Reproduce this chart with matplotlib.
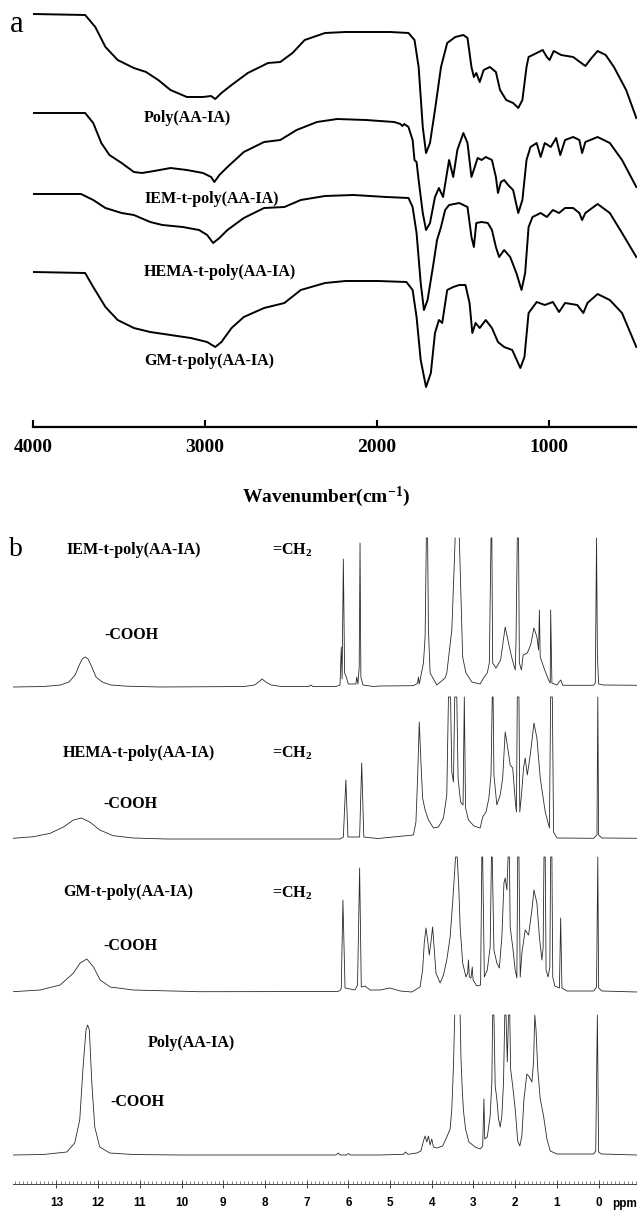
import matplotlib.pyplot as plt
import numpy as np
from matplotlib.ticker import MultipleLocator

plt.rcParams['mathtext.fontset'] = 'custom'
plt.rcParams['mathtext.rm'] = 'Liberation Serif:bold'
plt.rcParams['mathtext.it'] = 'Liberation Serif:bold'
plt.rcParams['mathtext.bf'] = 'Liberation Serif:bold'
plt.rcParams['mathtext.default'] = 'rm'

SERIF = 'Liberation Serif'
SANS = 'Liberation Sans'
GAP = float('nan')  # breaks the line where a peak runs off the top of the plot

# ---- (a) FTIR: wavenumber (cm-1), transmittance (a.u., stacked) ----
ftir_names = ['Poly(AA-IA)', 'IEM-t-poly(AA-IA)', 'HEMA-t-poly(AA-IA)', 'GM-t-poly(AA-IA)']

ftir_poly = [(4000, 413), (3697, 412), (3638, 400), (3579, 380), (3508, 367), (3414, 359), (3343, 355),
             (3272, 347), (3201, 337), (3106, 330), (3012, 330), (2965, 331), (2941, 328), (2905, 334),
             (2846, 342), (2752, 354), (2634, 364), (2563, 365), (2492, 374), (2421, 387), (2303, 394),
             (2184, 395), (2066, 395), (1924, 395), (1818, 394), (1783, 387), (1759, 360), (1735, 300),
             (1716, 274), (1693, 284), (1664, 317), (1629, 360), (1593, 384), (1546, 390), (1499, 392),
             (1475, 389), (1452, 360), (1438, 350), (1424, 354), (1404, 345), (1381, 357), (1345, 360),
             (1310, 355), (1286, 337), (1250, 327), (1210, 324), (1180, 319), (1156, 327), (1132, 360),
             (1120, 370), (1073, 374), (1038, 377), (1014, 370), (998, 367), (974, 376), (931, 372),
             (861, 370), (790, 361), (754, 369), (719, 376), (672, 372), (624, 360), (553, 337), (494, 309)]

ftir_iem = [(4000, 314), (3697, 314), (3650, 304), (3603, 284), (3556, 272), (3485, 264), (3414, 255),
            (3366, 254), (3296, 256), (3201, 259), (3106, 257), (3012, 254), (2965, 250), (2946, 245),
            (2917, 252), (2870, 260), (2775, 275), (2657, 285), (2563, 287), (2468, 297), (2350, 305),
            (2232, 308), (2066, 307), (1901, 305), (1865, 303), (1853, 301), (1842, 303), (1818, 300),
            (1794, 287), (1783, 267), (1771, 265), (1759, 247), (1735, 214), (1716, 197), (1693, 204),
            (1664, 230), (1641, 239), (1617, 230), (1582, 267), (1558, 250), (1534, 277), (1499, 294),
            (1475, 284), (1452, 250), (1433, 260), (1416, 269), (1393, 267), (1369, 270), (1333, 267),
            (1310, 250), (1298, 234), (1281, 245), (1262, 247), (1239, 242), (1210, 237), (1180, 214),
            (1156, 227), (1132, 267), (1109, 280), (1073, 284), (1050, 270), (1026, 284), (991, 280),
            (960, 289), (936, 272), (908, 287), (861, 290), (825, 287), (809, 274), (790, 285),
            (719, 290), (648, 284), (577, 267), (494, 240)]

ftir_hema = [(4000, 233), (3721, 233), (3650, 227), (3579, 219), (3485, 214), (3414, 212), (3319, 205),
             (3248, 202), (3130, 200), (3035, 197), (2988, 192), (2953, 184), (2917, 189), (2870, 197),
             (2775, 209), (2657, 219), (2539, 220), (2444, 227), (2303, 231), (2137, 232), (1948, 230),
             (1818, 229), (1794, 220), (1771, 194), (1747, 144), (1728, 117), (1707, 127), (1676, 160),
             (1652, 187), (1629, 200), (1605, 217), (1582, 222), (1523, 224), (1475, 220), (1452, 190),
             (1438, 180), (1424, 204), (1393, 205), (1357, 204), (1333, 197), (1310, 180), (1291, 170),
             (1262, 177), (1227, 170), (1191, 154), (1161, 137), (1140, 154), (1120, 200), (1097, 210),
             (1050, 214), (1014, 210), (979, 217), (943, 214), (908, 219), (861, 219), (825, 214),
             (809, 207), (790, 214), (719, 223), (648, 214), (577, 194), (494, 170)]

ftir_gm = [(4000, 155), (3697, 154), (3650, 140), (3579, 120), (3508, 107), (3414, 99), (3319, 95),
           (3201, 92), (3083, 89), (2988, 85), (2941, 80), (2905, 85), (2846, 99), (2775, 110),
           (2657, 119), (2539, 124), (2444, 137), (2303, 144), (2184, 146), (1995, 146), (1830, 145),
           (1794, 137), (1771, 110), (1747, 67), (1716, 40), (1688, 54), (1664, 94), (1641, 107),
           (1622, 104), (1593, 137), (1558, 140), (1523, 142), (1487, 142), (1463, 124), (1447, 94),
           (1428, 104), (1404, 99), (1369, 107), (1333, 99), (1298, 85), (1262, 80), (1215, 77),
           (1168, 59), (1144, 70), (1120, 114), (1073, 125), (1026, 122), (979, 125), (943, 115),
           (908, 124), (837, 122), (802, 114), (778, 124), (719, 133), (648, 127), (577, 114), (494, 80)]

ftir_ticks = [4000, 3000, 2000, 1000]

# ---- (b) 1H NMR: chemical shift (ppm), intensity above own baseline ----
nmr_iem = [(14.04, 0), (13.3, 0.5), (12.9, 2), (12.7, 5), (12.55, 12), (12.45, 22), (12.38, 28),
           (12.31, 30), (12.24, 28), (12.15, 20), (12.05, 10), (11.9, 5), (11.7, 2), (11.3, 0.8), (10.5, 0),
           (8.5, 0.5), (8.25, 2), (8.12, 6), (8.07, 8), (7.98, 5), (7.85, 2), (7.6, 0.5), (6.95, 0.5),
           (6.9, 2), (6.85, 0.5), (6.3, 0.5), (6.2, 2), (6.17, 40), (6.15, 8), (6.12, 128), (6.09, 14),
           (6.05, 10), (6.0, 3), (5.82, 3), (5.8, 10), (5.77, 3), (5.74, 20), (5.72, 144), (5.70, 10),
           (5.65, 2), (5.4, 0.5), (5.24, 1), (4.44, 1.3), (4.34, 3.7), (4.32, 10), (4.30, 3), (4.20, 24),
           (4.16, 50), (4.13, 149), (4.10, 149), (4.08, 57), (4.04, 14), (3.88, 2), (3.68, 9), (3.64, 14),
           (3.52, 57), (3.46, 124), (3.44, 149), (3.39, GAP), (3.34, 149), (3.30, 90), (3.26, 30), (3.18, 14),
           (3.04, 5), (2.84, 3), (2.76, 9), (2.67, 14), (2.62, 24), (2.58, 149), (2.56, 149), (2.54, 24),
           (2.46, 19), (2.35, 27), (2.24, 60), (2.16, 44), (2.08, 29), (2.00, 17), (1.98, 47), (1.95, 149),
           (1.92, 149), (1.90, 24), (1.85, 17), (1.81, 32), (1.71, 34), (1.63, 42), (1.55, 59), (1.48, 50),
           (1.44, 37), (1.42, 77), (1.40, 30), (1.31, 19), (1.20, 7), (1.16, 4), (1.15, 77), (1.12, 4),
           (1.00, 2), (0.91, 7), (0.86, 1.7), (0.12, 1.7), (0.08, 4), (0.05, 149), (0.03, 32), (0.0, 3),
           (-0.12, 2), (-0.92, 1.7)]

nmr_hema = [(14.04, 0.7), (13.55, 2.3), (13.15, 5.7), (12.83, 12), (12.59, 19), (12.40, 21), (12.20, 17),
            (11.96, 9), (11.64, 3.3), (11.16, 1), (10.36, 0), (6.2, 0), (6.12, 2), (6.06, 59), (6.01, 2),
            (5.73, 2), (5.68, 76), (5.63, 2), (5.3, 0.5), (5.24, 0.7), (4.44, 4), (4.38, 17), (4.34, 61),
            (4.30, 117), (4.26, 77), (4.22, 41), (4.16, 29), (4.08, 19), (3.96, 11), (3.84, 12), (3.72, 21),
            (3.64, 44), (3.62, 94), (3.60, 142), (3.55, 142), (3.52, 67), (3.48, 57), (3.45, 142),
            (3.40, 142), (3.37, 61), (3.31, 37), (3.25, 34), (3.22, 142), (3.19, 31), (3.12, 19), (2.99, 13),
            (2.84, 11), (2.78, 22), (2.70, 27), (2.63, 41), (2.58, 64), (2.55, 142), (2.53, 142), (2.51, 64),
            (2.44, 34), (2.36, 44), (2.30, 61), (2.24, 107), (2.19, 94), (2.12, 74), (2.06, 71), (1.99, 34),
            (1.97, 27), (1.95, 142), (1.91, 142), (1.89, 27), (1.85, 44), (1.80, 71), (1.76, 81), (1.71, 64),
            (1.64, 84), (1.55, 116), (1.48, 101), (1.40, 61), (1.28, 27), (1.18, 11), (1.15, 142),
            (1.11, 142), (1.08, 7), (1.00, 1), (0.12, 0.7), (0.04, 4), (0.02, 142), (0.0, 4), (-0.08, 1),
            (-0.92, 0.7)]

nmr_gm = [(14.04, 0.3), (13.39, 2), (12.91, 7), (12.59, 19), (12.43, 29), (12.27, 33), (12.11, 25),
          (11.95, 12), (11.71, 5), (11.16, 2), (9.56, 0.3), (6.25, 0.5), (6.19, 2), (6.17, 4), (6.13, 92),
          (6.08, 4), (5.84, 2), (5.78, 7), (5.73, 124), (5.69, 5), (5.60, 6), (5.48, 2), (5.24, 2),
          (5.00, 4), (4.76, 1), (4.48, 0), (4.28, 5), (4.22, 22), (4.18, 49), (4.14, 64), (4.10, 52),
          (4.06, 37), (4.02, 50), (3.98, 65), (3.94, 42), (3.90, 19), (3.80, 9), (3.72, 17), (3.64, 32),
          (3.56, 55), (3.50, 89), (3.46, 115), (3.43, 135), (3.39, 135), (3.35, 102), (3.32, 65),
          (3.26, 29), (3.18, 15), (3.14, 19), (3.12, 32), (3.10, 15), (3.06, 14), (3.03, 25), (3.01, 12),
          (2.92, 6), (2.83, 7), (2.80, 135), (2.78, 135), (2.74, 15), (2.67, 22), (2.60, 45), (2.57, 135),
          (2.55, 135), (2.51, 42), (2.44, 29), (2.38, 24), (2.32, 55), (2.27, 109), (2.24, 114),
          (2.20, 102), (2.17, 135), (2.14, 135), (2.12, 65), (2.06, 45), (2.00, 22), (1.96, 14),
          (1.94, 135), (1.91, 135), (1.88, 15), (1.84, 39), (1.76, 62), (1.68, 57), (1.60, 82),
          (1.55, 102), (1.48, 89), (1.42, 55), (1.36, 32), (1.33, 45), (1.31, 135), (1.28, 135),
          (1.26, 22), (1.21, 15), (1.17, 25), (1.15, 135), (1.12, 135), (1.10, 15), (1.05, 6), (0.94, 4),
          (0.91, 74), (0.88, 4), (0.76, 1), (0.12, 1), (0.05, 5), (0.02, 135), (0.0, 4), (-0.08, 1),
          (-0.92, 0)]

nmr_poly = [(14.04, 0), (13.31, 0.5), (12.75, 3), (12.56, 12), (12.44, 35), (12.36, 88), (12.29, 125),
            (12.25, 130), (12.21, 125), (12.15, 72), (12.08, 28), (11.96, 8), (11.72, 2), (11.16, 0.5),
            (10.0, 0), (6.3, 0), (6.24, 2), (6.2, 0), (6.05, 0), (6.0, 1.5), (5.95, 0), (5.24, 0),
            (4.68, 0.7), (4.63, 3), (4.57, 0.7), (4.36, 2), (4.26, 4), (4.20, 14), (4.16, 19), (4.12, 13),
            (4.08, 19), (4.04, 10), (4.00, 16), (3.96, 8), (3.87, 7), (3.74, 9), (3.64, 18), (3.56, 26),
            (3.52, 46), (3.48, 89), (3.45, 140), (3.38, GAP), (3.32, 140), (3.30, 96), (3.27, 66), (3.24, 44),
            (3.19, 26), (3.11, 13), (2.96, 8), (2.84, 6), (2.78, 9), (2.75, 56), (2.73, 16), (2.67, 18),
            (2.60, 39), (2.56, 73), (2.54, 140), (2.51, 140), (2.48, 69), (2.44, 56), (2.40, 36),
            (2.36, 28), (2.32, 39), (2.28, 73), (2.25, 140), (2.22, 140), (2.19, 93), (2.16, 140),
            (2.13, 140), (2.11, 86), (2.06, 69), (2.00, 46), (1.94, 14), (1.89, 9), (1.84, 19), (1.79, 56),
            (1.72, 81), (1.66, 78), (1.60, 73), (1.56, 93), (1.53, 140), (1.50, 125), (1.46, 86),
            (1.40, 56), (1.32, 39), (1.24, 16), (1.16, 4), (1.00, 1), (0.12, 1), (0.07, 4), (0.03, 140),
            (0.0, 3), (-0.06, 1), (-0.92, 0)]

nmr_ticks = list(range(0, 14))

W, H = 637, 1212
fig = plt.figure(figsize=(W / 100, H / 100), dpi=100)

# ---------------- panel a ----------------
axa = fig.add_axes([33 / W, (H - 427) / H, 604 / W, 427 / H])
for data in [ftir_poly, ftir_iem, ftir_hema, ftir_gm]:
    wn, tr = zip(*data)
    axa.plot(wn, tr, color='black', lw=1.4, solid_joinstyle='round')

axa.set_xlim(4000, 490)
axa.set_ylim(0, 427)
for s in ['top', 'left', 'right']:
    axa.spines[s].set_visible(False)
axa.spines['bottom'].set_linewidth(1.6)
axa.set_yticks([])
axa.set_xticks(ftir_ticks)
axa.set_xticklabels([str(t) for t in ftir_ticks], fontfamily=SERIF, fontweight='bold', fontsize=14)
axa.tick_params(axis='x', direction='in', length=5, width=1.5, pad=9)

# curve labels (x in cm-1, y in a.u.)
for name, ypos in zip(ftir_names, [309, 228, 155, 66]):
    axa.text(3355, ypos, name, ha='left', va='center', fontfamily=SERIF,
             fontweight='bold', fontsize=11.5)

fig.text(10 / W, 1 - 24 / H, 'a', fontfamily=SERIF, fontsize=22, ha='left', va='center')
fig.text(326 / W, 1 - 497 / H, 'Wavenumber(cm$^{-1}$)', fontfamily=SERIF, fontweight='bold',
         fontsize=14, ha='center', va='center')

# ---------------- panel b ----------------
axb = fig.add_axes([13 / W, (H - 1184) / H, 624 / W, 664 / H])
offsets = [497, 345, 192, 29]
for data, off in zip([nmr_iem, nmr_hema, nmr_gm, nmr_poly], offsets):
    ppm, inten = zip(*data)
    axb.plot(ppm, np.array(inten) + off, color='#2a2a2a', lw=0.6)

axb.set_xlim(14.04, -0.92)
axb.set_ylim(0, 664)
for s in ['top', 'left', 'right']:
    axb.spines[s].set_visible(False)
axb.spines['bottom'].set_linewidth(0.7)
axb.spines['bottom'].set_color('#444444')
axb.set_yticks([])
axb.set_xticks(nmr_ticks)
axb.set_xticklabels([str(t) for t in nmr_ticks], fontfamily=SANS, fontweight='bold', fontsize=8.5)
axb.xaxis.set_minor_locator(MultipleLocator(0.1))
axb.tick_params(axis='x', which='major', direction='inout', length=6, width=0.7,
                color='#444444', pad=6)
axb.tick_params(axis='x', which='minor', direction='in', length=2.2, width=0.5, color='#555555')

lab_kw = dict(fontfamily=SERIF, fontweight='bold', fontsize=11.5, ha='left', va='center')
axb.text(12.75, 634, 'IEM-t-poly(AA-IA)', **lab_kw)
axb.text(12.84, 431, 'HEMA-t-poly(AA-IA)', **lab_kw)
axb.text(12.84, 292, 'GM-t-poly(AA-IA)', **lab_kw)
axb.text(10.80, 141, 'Poly(AA-IA)', **lab_kw)
for ypos in [634, 431, 291]:
    axb.text(7.83, ypos, '=CH$_2$', **lab_kw)
for xpos, ypos in [(11.86, 549), (11.88, 380), (11.88, 238), (11.71, 82)]:
    axb.text(xpos, ypos, '-COOH', **lab_kw)

fig.text(9 / W, 1 - 550 / H, 'b', fontfamily=SERIF, fontsize=20, ha='left', va='center')
fig.text(612 / W, 1 - 1204 / H, 'ppm', fontfamily=SANS, fontweight='bold', fontsize=8.5,
         ha='left', va='center')

fig.savefig('out.png', dpi=100)
